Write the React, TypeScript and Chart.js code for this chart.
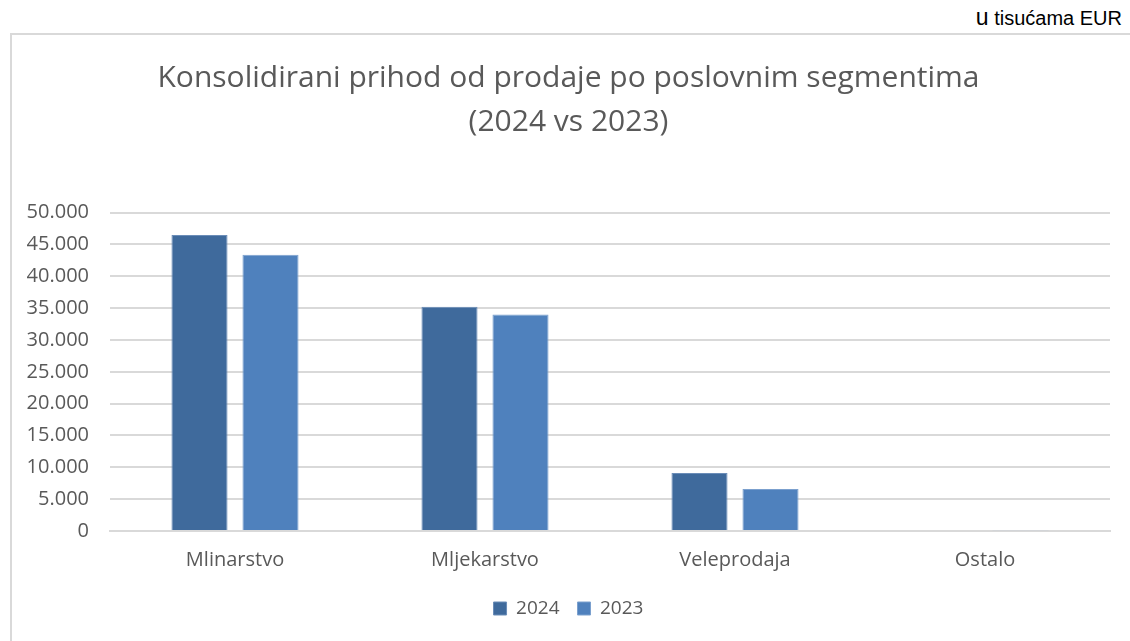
import React, { useEffect, useRef } from "react";
import { Chart, registerables } from "chart.js";

Chart.register(...registerables);

const categories = ["Mlinarstvo", "Mljekarstvo", "Veleprodaja", "Ostalo"];
const series2024 = [46500, 35200, 9100, 150];
const series2023 = [43400, 34000, 6600, 120];
const seriesLabels = ["2024", "2023"];
const titleLines = ["Konsolidirani prihod od prodaje po poslovnim segmentima", "(2024 vs 2023)"];
const unitNote = "tisućama EUR";

const FONT = "'Open Sans', 'Noto Sans', sans-serif";

export default function App() {
  const ref = useRef<HTMLCanvasElement | null>(null);

  useEffect(() => {
    if (!ref.current) return;
    const chart = new Chart(ref.current, {
      type: "bar",
      data: {
        labels: categories,
        datasets: [
          {
            label: seriesLabels[0],
            data: series2024,
            backgroundColor: "#3F6A9C",
            borderColor: "#6B8DB8",
            borderWidth: 1,
            barPercentage: 0.79,
            categoryPercentage: 0.568,
          },
          {
            label: seriesLabels[1],
            data: series2023,
            backgroundColor: "#4F81BD",
            borderColor: "#7BA0CE",
            borderWidth: 1,
            barPercentage: 0.79,
            categoryPercentage: 0.568,
          },
        ],
      },
      options: {
        animation: false,
        responsive: false,
        maintainAspectRatio: false,
        layout: { padding: { left: 15, right: 20, top: 22, bottom: 13 } },
        plugins: {
          title: {
            display: true,
            text: titleLines,
            color: "#595959",
            font: { family: FONT, size: 30, weight: "normal", lineHeight: 1.46 },
            padding: { top: 0, bottom: 68 },
          },
          legend: {
            position: "bottom",
            labels: {
              color: "#595959",
              font: { family: FONT, size: 19 },
              boxWidth: 13,
              boxHeight: 13,
              padding: 18,
            },
          },
          tooltip: { enabled: false },
        },
        scales: {
          x: {
            grid: { display: false },
            border: { color: "#D9D9D9", width: 2 },
            ticks: { color: "#595959", font: { family: FONT, size: 20 }, padding: 9 },
          },
          y: {
            min: 0,
            max: 50000,
            border: { display: false },
            grid: { color: "#D9D9D9", lineWidth: 2, drawTicks: false },
            afterFit: (scale: any) => {
              scale.width = 83;
            },
            ticks: {
              stepSize: 5000,
              color: "#595959",
              font: { family: FONT, size: 20 },
              padding: 21,
              callback: (v: any) => Number(v).toLocaleString("de-DE"),
            },
          },
        },
      },
    });
    return () => chart.destroy();
  }, []);

  return (
    <div style={{ position: "fixed", left: 0, top: 0, width: 1130, height: 641, background: "#fff", overflow: "hidden" }}>
      <div
        style={{
          position: "absolute",
          right: 8,
          top: 4,
          fontFamily: "'Liberation Sans', Arial, sans-serif",
          fontSize: 20,
          color: "#000",
        }}
      >
        <span style={{ fontSize: 23 }}>u</span> {unitNote}
      </div>
      <div
        style={{
          position: "absolute",
          left: 10,
          top: 33,
          width: 1140,
          height: 640,
          borderTop: "2px solid #D9D9D9",
          borderLeft: "2px solid #D9D9D9",
        }}
      />
      <canvas ref={ref} width={1118} height={606} style={{ position: "absolute", left: 12, top: 35 }} />
    </div>
  );
}
